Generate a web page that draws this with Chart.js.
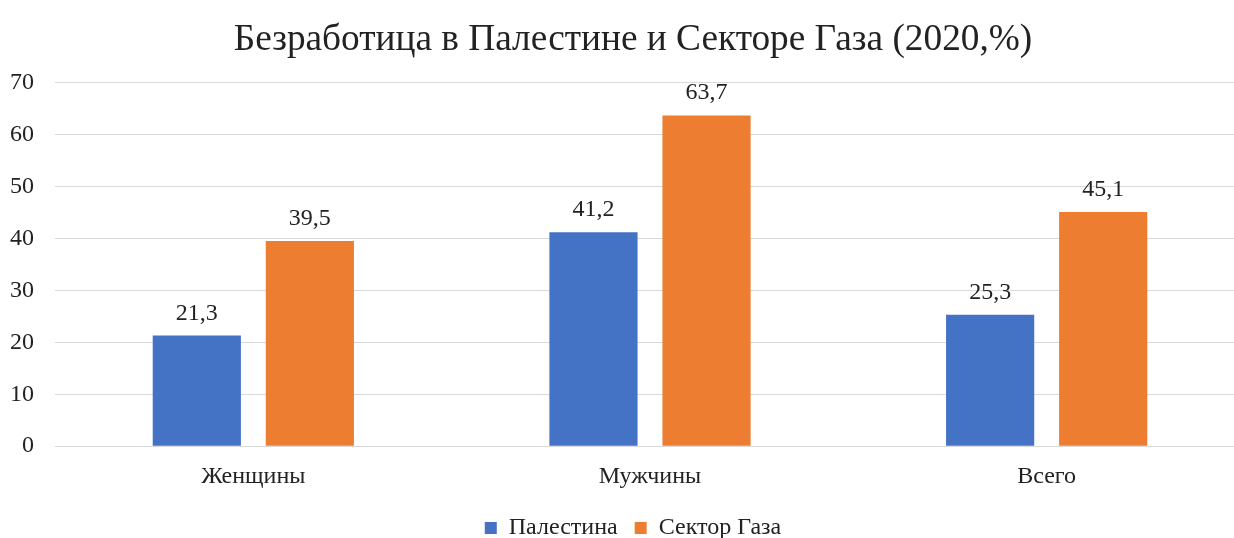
<!DOCTYPE html>
<html>
<head>
<meta charset="utf-8">
<script src="https://cdn.jsdelivr.net/npm/chart.js@4"></script>
<style>
  html, body { margin: 0; padding: 0; background: #fff; overflow: hidden; }
  #wrap { width: 1266px; height: 550px; }
</style>
</head>
<body>
<div id="wrap"><canvas id="unempChart"></canvas></div>
<script>
const categories = ['Женщины', 'Мужчины', 'Всего'];
const palestine = [21.3, 41.2, 25.3];
const gaza = [39.5, 63.7, 45.1];
const seriesNames = ['Палестина', 'Сектор Газа'];
const yTicks = [0, 10, 20, 30, 40, 50, 60, 70];

const serif = "'Liberation Serif', 'Times New Roman', serif";

// draws the value above each bar, comma as decimal separator
const valueLabels = {
    id: 'valueLabels',
    afterDatasetsDraw(chart) {
        const c = chart.ctx;
        c.save();
        c.font = '24px ' + serif;
        c.fillStyle = '#222';
        c.textAlign = 'center';
        c.textBaseline = 'alphabetic';
        chart.data.datasets.forEach((ds, i) => {
            chart.getDatasetMeta(i).data.forEach((bar, j) => {
                c.fillText(String(ds.data[j]).replace('.', ','), bar.x, bar.y - 16);
            });
        });
        c.restore();
    }
};

const ctx = document.getElementById('unempChart').getContext('2d');

new Chart(ctx, {
    type: 'bar',
    data: {
        labels: categories,
        datasets: [
            { label: seriesNames[0], data: palestine, backgroundColor: '#4472c4' },
            { label: seriesNames[1], data: gaza, backgroundColor: '#ed7d31' }
        ]
    },
    options: {
        responsive: true,
        maintainAspectRatio: false,
        animation: false,
        categoryPercentage: 0.57,
        barPercentage: 0.78,
        layout: { padding: 0 },
        plugins: {
            title: {
                display: true,
                text: 'Безработица в Палестине и Секторе Газа (2020,%)',
                color: '#222',
                font: { family: serif, size: 37.3, weight: 'normal' },
                padding: { top: 18, bottom: 20 }
            },
            legend: {
                position: 'bottom',
                labels: {
                    color: '#222',
                    font: { family: serif, size: 24 },
                    boxWidth: 12,
                    boxHeight: 12,
                    padding: 17
                }
            },
            tooltip: { enabled: false }
        },
        scales: {
            y: {
                min: 0,
                max: 70,
                afterBuildTicks: axis => { axis.ticks = yTicks.map(v => ({ value: v })); },
                afterFit: axis => { axis.width = 55; },
                grid: { color: '#d9d9d9', lineWidth: 1, drawTicks: false },
                border: { display: false },
                ticks: {
                    color: '#222',
                    font: { family: serif, size: 24 },
                    padding: 21
                }
            },
            // empty right margin so the plot ends where the reference does
            yRight: {
                position: 'right',
                afterFit: axis => { axis.width = 21; },
                grid: { display: false },
                border: { display: false },
                ticks: { display: false }
            },
            x: {
                grid: { display: false },
                border: { color: '#d9d9d9', width: 1 },
                ticks: {
                    color: '#222',
                    font: { family: serif, size: 24 },
                    padding: 8
                }
            }
        }
    },
    plugins: [valueLabels]
});
</script>
</body>
</html>
